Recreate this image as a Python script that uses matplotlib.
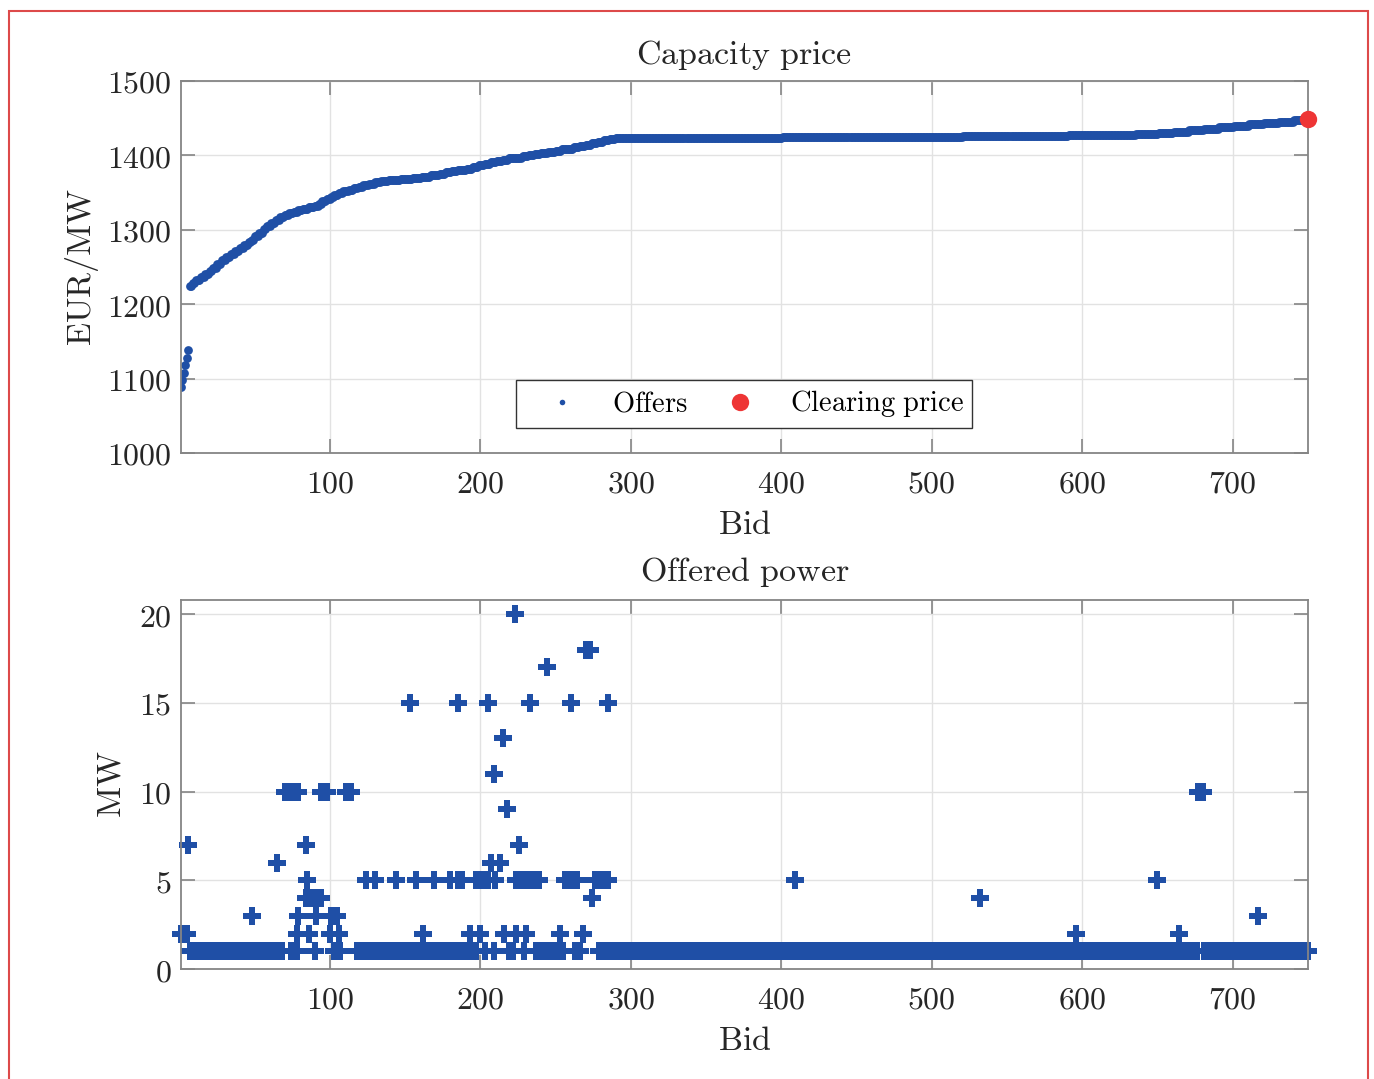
import matplotlib
matplotlib.use("Agg")
import matplotlib.pyplot as plt
import numpy as np
from matplotlib.patches import Rectangle
from matplotlib.ticker import FuncFormatter

# --- capacity price: sorted offer prices as (level, number of bids at that level)
price_level = [1088, 1098, 1108, 1118, 1128, 1138,
               1224, 1228, 1232, 1236, 1240, 1244, 1249, 1254, 1259, 1263, 1267, 1271, 1275, 1280,
               1283, 1286, 1291, 1296, 1301, 1305, 1309, 1313, 1317, 1320, 1322, 1324, 1326, 1328,
               1330, 1332, 1335, 1338, 1341, 1344, 1347, 1350, 1352, 1354, 1356, 1358, 1360, 1362,
               1364, 1366, 1367, 1368, 1369, 1371, 1373, 1375, 1377, 1379, 1380, 1381, 1384, 1387,
               1389, 1391, 1393, 1394, 1396, 1397, 1399, 1401, 1402, 1403, 1405, 1406, 1408, 1409,
               1411, 1412, 1414, 1416, 1418, 1420, 1422, 1423, 1424, 1425, 1426, 1427, 1428, 1430,
               1432, 1434, 1436, 1438, 1440, 1442, 1443, 1445, 1447]
price_count = [1, 1, 1, 1, 1, 1,
               2, 2, 3, 3, 3, 2, 3, 3, 3, 3, 3, 3, 3, 3,
               2, 2, 3, 3, 2, 3, 3, 3, 3, 3, 3, 3, 3, 4,
               4, 3, 2, 3, 3, 2, 3, 3, 4, 3, 3, 3, 4, 4,
               4, 5, 8, 8, 6, 6, 6, 4, 4, 4, 6, 4, 4, 4,
               4, 4, 4, 4, 5, 4, 4, 4, 4, 5, 5, 4, 4, 4,
               4, 4, 4, 4, 4, 4, 4, 111, 60, 60, 70, 45, 15, 10,
               10, 10, 10, 10, 10, 10, 10, 10, 10]
clearing_bid = 750
clearing_price = 1449

# --- offered power: dense bands given as bid runs, plus single offers
one_mw_runs = [(7, 68), (74, 78), (90, 90), (103, 103), (107, 107), (118, 197),
               (203, 203), (209, 209), (219, 222), (229, 229), (237, 255),
               (263, 266), (279, 676), (681, 750)]
five_mw_runs = [(197, 205), (210, 210), (224, 230), (232, 239), (256, 264), (276, 285)]
single_bid = [1, 2, 3, 4, 5, 78, 86, 100, 106, 162, 193, 200, 216, 224, 230, 253, 268, 596, 664,
              48, 79, 91, 101, 102, 105, 717,
              84, 88, 90, 93, 94, 274, 532,
              85, 124, 130, 144, 157, 169, 180, 185, 188, 409, 650,
              65, 207, 213,
              6, 84, 226,
              218,
              70, 72, 73, 75, 77, 79, 94, 95, 97, 98, 111, 112, 114, 677, 680,
              209, 215,
              153, 185, 205, 233, 260, 285,
              244, 270, 273, 223]
single_mw = [2] * 19 + [3] * 7 + [4] * 7 + [5] * 11 + [6] * 3 + [7] * 3 + [9] + \
            [10] * 15 + [11, 13] + [15] * 6 + [17, 18, 18, 20]

BLUE = "#1f4fa6"
RED = "#ee3535"
GRID = "#e2e2e2"
SPINE = "#858585"
TXT = "#262626"

plt.rcParams["mathtext.fontset"] = "cm"
plt.rcParams["font.size"] = 23


def mt(s):
    return r"$\mathrm{" + s.replace(" ", r"\ ") + "}$"


def style_axes(ax):
    ax.grid(True, color=GRID, linewidth=1.0)
    ax.set_axisbelow(True)
    for sp in ax.spines.values():
        sp.set_color(SPINE)
        sp.set_linewidth(1.3)
    ax.tick_params(direction="in", length=10, width=1.2, color=SPINE,
                   top=True, right=True, labelsize=23, labelcolor=TXT)
    ax.tick_params(axis="x", pad=11)
    ax.tick_params(axis="y", pad=7)
    fmt = FuncFormatter(lambda v, p: "$%g$" % v)
    ax.xaxis.set_major_formatter(fmt)
    ax.yaxis.set_major_formatter(fmt)


fig = plt.figure(figsize=(13.74, 10.79), dpi=100)

# top panel
ax1 = fig.add_axes([0.1317, 0.5802, 0.8202, 0.3448])
price = np.repeat(price_level, price_count)
bids = np.arange(1, len(price) + 1)
ax1.plot(bids, price, "o", color=BLUE, markersize=6.3, markeredgewidth=0,
         label=mt("Offers"))
ax1.plot([clearing_bid], [clearing_price], "o", color=RED, markersize=12.5,
         markeredgewidth=0, clip_on=False, zorder=5, label=mt("Clearing price"))
ax1.set_xlim(1, 750)
ax1.set_ylim(1000, 1500)
ax1.set_xticks(range(100, 701, 100))
ax1.set_yticks(range(1000, 1501, 100))
style_axes(ax1)
ax1.set_title(mt("Capacity price"), fontsize=24.5, color=TXT, pad=12)
ax1.set_xlabel(mt("Bid"), fontsize=24.5, color=TXT, labelpad=6)
ax1.set_ylabel(mt("EUR/MW"), fontsize=24.5, color=TXT, labelpad=4)
leg = ax1.legend(loc="lower center", bbox_to_anchor=(0.5, 0.067), ncol=2,
                 fancybox=False, framealpha=1, edgecolor="#333333",
                 fontsize=20.5, handletextpad=0.45, columnspacing=0.55,
                 borderpad=0.3, handlelength=2.6, borderaxespad=0)
leg.get_frame().set_linewidth(1.0)
leg.legend_handles[0].set_markersize(4)
leg.legend_handles[1].set_markersize(12.5)

# bottom panel
ax2 = fig.add_axes([0.1317, 0.1019, 0.8202, 0.3420])
one_bids = np.concatenate([np.arange(a, b + 1) for a, b in one_mw_runs])
five_bids = np.concatenate([np.arange(a, b + 1) for a, b in five_mw_runs])
ax2.plot(one_bids, np.ones(len(one_bids)), "P", color=BLUE, markersize=12.8,
         markeredgewidth=0, clip_on=False)
ax2.plot(five_bids, np.full(len(five_bids), 5), "P", color=BLUE, markersize=12.8,
         markeredgewidth=0)
ax2.plot(single_bid, single_mw, "P", color=BLUE, markersize=12.8,
         markeredgewidth=0, clip_on=False)
ax2.set_xlim(1, 750)
ax2.set_ylim(0, 20.8)
ax2.set_xticks(range(100, 701, 100))
ax2.set_yticks([0, 5, 10, 15, 20])
style_axes(ax2)
ax2.set_title(mt("Offered power"), fontsize=24.5, color=TXT, pad=14)
ax2.set_xlabel(mt("Bid"), fontsize=24.5, color=TXT, labelpad=6)
ax2.set_ylabel(mt("MW"), fontsize=24.5, color=TXT, labelpad=8)

# red frame around the figure
fig.patches.append(Rectangle((9 / 1374, -0.02), 1359 / 1374, 1 - 11 / 1079 + 0.02,
                             transform=fig.transFigure, fill=False,
                             edgecolor="#dd4a4a", linewidth=1.5))

fig.savefig("out.png", dpi=100)
